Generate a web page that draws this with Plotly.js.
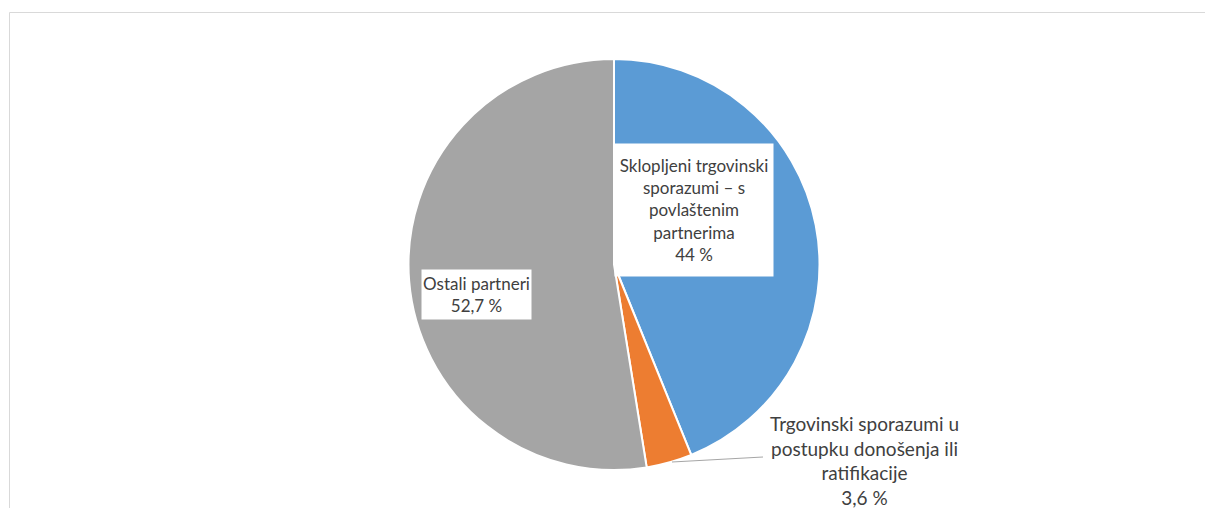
<!DOCTYPE html>
<html>
<head>
<meta charset="utf-8">
<script src="https://cdn.plot.ly/plotly-3.0.1.min.js"></script>
<style>html,body{margin:0;padding:0;background:#fff;}#chart{width:1205px;height:508px;}</style>
</head>
<body>
<div id="chart"></div>
<script>
// Data
var categories = [
  "Sklopljeni trgovinski sporazumi – s povlaštenim partnerima",
  "Trgovinski sporazumi u postupku donošenja ili ratifikacije",
  "Ostali partneri"
];
var labelLines = [
  ["Sklopljeni trgovinski", "sporazumi – s", "povlaštenim", "partnerima"],
  ["Trgovinski sporazumi u", "postupku donošenja ili", "ratifikacije"],
  ["Ostali partneri"]
];
var values = [44, 3.6, 52.7];
var valueLabels = ["44 %", "3,6 %", "52,7 %"];
var colors = ["#5B9BD5", "#ED7D31", "#A5A5A5"];

var W = 1205, H = 508;
function px(x){ return x / W; }
function py(y){ return 1 - y / H; }

var trace = {
  type: "pie",
  labels: categories,
  values: values,
  sort: false,
  direction: "clockwise",
  rotation: 0,
  textinfo: "none",
  hoverinfo: "label+percent",
  marker: { colors: colors, line: { color: "#ffffff", width: 2 } },
  domain: { x: [px(614 - 205.5), px(614 + 205.5)], y: [py(470), py(59)] },
  showlegend: false
};

function labelText(i){ return labelLines[i].concat([valueLabels[i]]).join("<br>"); }

var annotations = [
  {
    xref: "paper", yref: "paper", x: px(694), y: py(210),
    xanchor: "center", yanchor: "middle", showarrow: false,
    text: labelText(0), font: { family: "Lato, sans-serif", size: 17, color: "#404040" },
    bgcolor: "#ffffff", width: 156, height: 130, borderpad: 1
  },
  {
    xref: "paper", yref: "paper", x: px(476.5), y: py(294.5),
    xanchor: "center", yanchor: "middle", showarrow: false,
    text: labelText(2), font: { family: "Lato, sans-serif", size: 17, color: "#404040" },
    bgcolor: "#ffffff", width: 107, height: 47, borderpad: 1
  },
  {
    xref: "paper", yref: "paper", x: px(864), y: py(460),
    xanchor: "center", yanchor: "middle", showarrow: false,
    text: labelText(1), font: { family: "Lato, sans-serif", size: 19, color: "#404040" }
  }
];

var shapes = [
  { type: "rect", xref: "paper", yref: "paper", x0: px(9.5), x1: 1.05, y0: -0.05, y1: py(12.5),
    line: { color: "#d9d9d9", width: 1 }, fillcolor: "rgba(0,0,0,0)" },
  { type: "line", xref: "paper", yref: "paper", x0: px(672), y0: py(462), x1: px(763), y1: py(457),
    line: { color: "#a6a6a6", width: 1 } }
];

var layout = {
  width: W, height: H,
  margin: { l: 0, r: 0, t: 0, b: 0 },
  paper_bgcolor: "#ffffff",
  annotations: annotations,
  shapes: shapes
};

Plotly.newPlot("chart", [trace], layout, { displayModeBar: false, staticPlot: true });
</script>
</body>
</html>
